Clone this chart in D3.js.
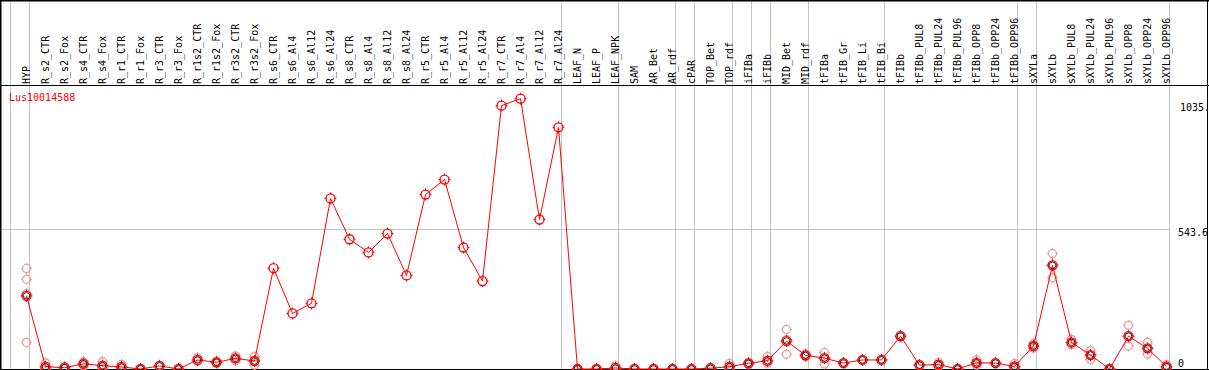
<!DOCTYPE html>
<html lang="en">
<head>
    <meta charset="UTF-8">
    <title>Lus10014588 expression</title>
    <script src="https://d3js.org/d3.v7.min.js"></script>
    <style>
        body { margin: 0; background: #fff; }
        svg { display: block; }
        text { font-family: "DejaVu Sans Mono", monospace; font-size: 10px; }
    </style>
</head>
<body>
<svg id="chart"></svg>
<script>
    // Sample names, one column each
    const samples = [
        "HYP", "R_s2_CTR", "R_s2_Fox", "R_s4_CTR", "R_s4_Fox", "R_r1_CTR", "R_r1_Fox", "R_r3_CTR", "R_r3_Fox",
        "R_r1s2_CTR", "R_r1s2_Fox", "R_r3s2_CTR", "R_r3s2_Fox", "R_s6_CTR", "R_s6_Al4", "R_s6_Al12", "R_s6_Al24",
        "R_s8_CTR", "R_s8_Al4", "R_s8_Al12", "R_s8_Al24", "R_r5_CTR", "R_r5_Al4", "R_r5_Al12", "R_r5_Al24",
        "R_r7_CTR", "R_r7_Al4", "R_r7_Al12", "R_r7_Al24", "LEAF_N", "LEAF_P", "LEAF_NPK", "SAM", "AR_Bet", "AR_rdf",
        "cPAR", "TOP_Bet", "TOP_rdf", "iFIBa", "iFIBb", "MID_Bet", "MID_rdf", "tFIBa", "tFIB_Gr", "tFIB_Li", "tFIB_Bi",
        "tFIBb", "tFIBb_PUL8", "tFIBb_PUL24", "tFIBb_PUL96", "tFIBb_OPP8", "tFIBb_OPP24", "tFIBb_OPP96",
        "sXYLa", "sXYLb", "sXYLb_PUL8", "sXYLb_PUL24", "sXYLb_PUL96", "sXYLb_OPP8", "sXYLb_OPP24", "sXYLb_OPP96"
    ];

    // how many samples in each experiment group (separated by grey lines)
    const groupSizes = [1, 28, 3, 3, 1, 2, 1, 1, 2, 4, 7, 1, 7];

    // mean expression per sample
    const means = [
        283, 9, 5, 20, 13, 8, 0, 12, 0,
        35, 26, 41, 31, 390, 215, 254, 660,
        502, 451, 524, 362, 675, 733, 470, 340,
        1019, 1046, 578, 935, 0, 0, 4, 0, 0, 0,
        0, 3, 9, 22, 32, 108, 53, 42, 23, 35, 35,
        127, 15, 17, 0, 24, 23, 10,
        89, 401, 103, 54, 0, 127, 80, 9
    ];

    // replicate values (empty = single sample)
    const replicates = [
        [389, 347, 292, 103], [24, 3, 0], [9, 4, 2], [28, 20, 12], [28, 8, 3], [18, 4, 2], [0, 0, 0], [14, 12, 10], [0, 0, 0],
        [44, 31, 30], [31, 26, 21], [51, 41, 31], [48, 30, 15], [], [], [], [],
        [], [], [], [], [], [], [], [],
        [], [], [], [], [0, 0, 0], [0, 0, 0], [12, 0, 0], [0, 0, 0], [0, 0, 0], [0, 0, 0],
        [0, 0, 0], [5, 3, 1], [22, 5, 0], [26, 22, 18], [48, 26, 22], [153, 114, 57], [58, 53, 48], [64, 42, 19], [25, 23, 21], [37, 35, 33], [37, 35, 33],
        [130, 127, 124], [17, 15, 13], [26, 15, 10], [0, 0, 0], [35, 22, 15], [25, 23, 21], [22, 5, 3],
        [99, 89, 80], [447, 403, 353], [115, 100, 94], [71, 54, 37], [0, 0, 0], [169, 127, 89], [103, 80, 58], [17, 6, 4]
    ];

    const yMax = 1087.2;
    const yLabels = ["1035.", "543.6", "0"];
    const geneName = "Lus10014588";

    const W = 1209, H = 370;
    const headerY = 85, plotBottom = 369;

    const svg = d3.select("#chart").attr("width", W).attr("height", H);

    const x = d3.scaleBand()
        .domain(samples)
        .range([10.5, 10.5 + 19 * samples.length]);
    const px = name => x(name) + 16;

    const y = d3.scaleLinear()
        .domain([0, yMax])
        .range([plotBottom, 88]);

    // group separators
    const bounds = [0];
    groupSizes.forEach(s => bounds.push(bounds[bounds.length - 1] + s));
    const xEdge = i => 10.5 + 19 * i;

    svg.append("g")
        .selectAll("line")
        .data(bounds)
        .join("line")
        .attr("x1", d => xEdge(d)).attr("x2", d => xEdge(d))
        .attr("y1", 0).attr("y2", plotBottom)
        .attr("stroke", "#c4c4c4").attr("stroke-width", 1);

    // mid-value gridline
    svg.append("line")
        .attr("x1", 0).attr("x2", xEdge(samples.length))
        .attr("y1", Math.round(y(yMax / 2)) + 0.5).attr("y2", Math.round(y(yMax / 2)) + 0.5)
        .attr("stroke", "#c4c4c4");

    // frame
    svg.append("line").attr("x1", 0).attr("x2", W).attr("y1", 0.5).attr("y2", 0.5).attr("stroke", "#000").attr("stroke-width", 2);
    svg.append("line").attr("x1", 0.5).attr("x2", 0.5).attr("y1", 0).attr("y2", H).attr("stroke", "#000").attr("stroke-width", 2);
    svg.append("line").attr("x1", W - 1.5).attr("x2", W - 1.5).attr("y1", 0).attr("y2", H).attr("stroke", "#000");
    svg.append("line").attr("x1", 0).attr("x2", W).attr("y1", headerY + 0.5).attr("y2", headerY + 0.5).attr("stroke", "#000");
    svg.append("line").attr("x1", 0).attr("x2", W).attr("y1", plotBottom + 0.5).attr("y2", plotBottom + 0.5).attr("stroke", "#000");

    // column labels
    svg.append("g")
        .selectAll("text")
        .data(samples)
        .join("text")
        .attr("transform", d => `translate(${px(d) + 3},84) rotate(-90)`)
        .attr("fill", "#000")
        .text(d => d);

    // gene name
    svg.append("text")
        .attr("x", 9).attr("y", 101)
        .attr("fill", "#ff0000")
        .text(geneName);

    // y labels on the right
    const yLabelPos = [111, 236, 367];
    svg.append("g")
        .selectAll("text")
        .data(yLabels)
        .join("text")
        .attr("x", (d, i) => i === 0 ? 1180 : 1178)
        .attr("y", (d, i) => yLabelPos[i])
        .attr("fill", "#000")
        .text(d => d);

    function marker(g, cx, cy, color, r) {
        g.append("circle")
            .attr("cx", cx).attr("cy", cy).attr("r", r)
            .attr("fill", "none").attr("stroke", color).attr("stroke-width", 1.3);
        [[0, -1], [0, 1], [-1, 0], [1, 0]].forEach(([dx, dy]) => {
            g.append("line")
                .attr("x1", cx + dx * (r - 0.5)).attr("y1", cy + dy * (r - 0.5))
                .attr("x2", cx + dx * (r + 1.5)).attr("y2", cy + dy * (r + 1.5))
                .attr("stroke", color).attr("stroke-width", 1);
        });
    }

    // replicate markers
    const repG = svg.append("g");
    samples.forEach((s, i) => {
        replicates[i].forEach(v => marker(repG, px(s), y(v), "#ef9a9a", 4));
    });

    // mean line
    const line = d3.line()
        .x(d => px(d.name))
        .y(d => y(d.value));
    const meanData = samples.map((s, i) => ({ name: s, value: means[i], hasReps: replicates[i].length > 0 }));

    svg.append("path")
        .datum(meanData)
        .attr("d", line)
        .attr("fill", "none")
        .attr("stroke", "#ff0000")
        .attr("stroke-width", 1);

    const meanG = svg.append("g");
    meanData.forEach(d => {
        if (d.hasReps) {
            meanG.append("circle")
                .attr("cx", px(d.name)).attr("cy", y(d.value)).attr("r", 3.3)
                .attr("fill", "none").attr("stroke", "#000").attr("stroke-width", 0.8);
        }
        marker(meanG, px(d.name), y(d.value), "#ff0000", 4.5);
    });
</script>
</body>
</html>
